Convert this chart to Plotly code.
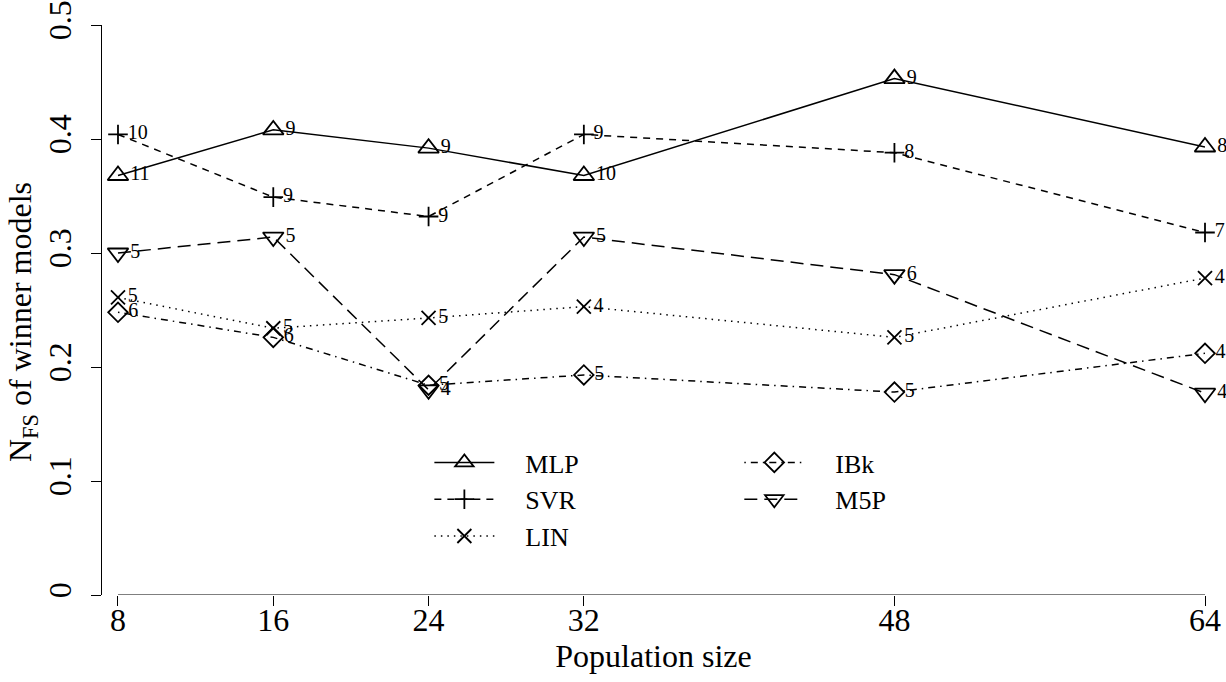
import plotly.graph_objects as go

pop_size = [8, 16, 24, 32, 48, 64]
x_tick_labels = ["8", "16", "24", "32", "48", "64"]
y_tick_vals = [0, 0.1, 0.2, 0.3, 0.4, 0.5]
y_tick_labels = ["0", "0.1", "0.2", "0.3", "0.4", "0.5"]

mlp = [0.368, 0.408, 0.392, 0.368, 0.453, 0.393]
svr = [0.404, 0.349, 0.332, 0.404, 0.388, 0.318]
lin = [0.261, 0.234, 0.243, 0.253, 0.226, 0.278]
ibk = [0.248, 0.226, 0.184, 0.193, 0.178, 0.212]
m5p = [0.300, 0.314, 0.180, 0.314, 0.281, 0.177]

mlp_n = ["11", "9", "9", "10", "9", "8"]
svr_n = ["10", "9", "9", "9", "8", "7"]
lin_n = ["5", "5", "5", "4", "5", "4"]
ibk_n = ["6", "6", "5", "5", "5", "4"]
m5p_n = ["5", "5", "4", "5", "6", "4"]

FONT = "Liberation Serif"
GAP = "\u00a0" * 4
series = [
    ("MLP", mlp, mlp_n, "solid", "triangle-up-open", 18, "legend"),
    ("SVR", svr, svr_n, "7px,6px", "cross-thin", 14, "legend"),
    ("LIN", lin, lin_n, "1.5px,5px", "x-thin", 14, "legend"),
    ("IBk", ibk, ibk_n, "1.5px,5px,7px,5px", "diamond-open", 15, "legend2"),
    ("M5P", m5p, m5p_n, "13px,7px", "triangle-down-open", 18, "legend2"),
]

fig = go.Figure()
for name, vals, labs, dash, sym, size, leg in series:
    fig.add_trace(go.Scatter(
        x=pop_size, y=vals, name=GAP + name, mode="lines+markers+text",
        text=labs, textposition="middle right",
        textfont=dict(family=FONT, size=20, color="black"),
        line=dict(color="black", width=1.5, dash=dash),
        marker=dict(symbol=sym, size=size, color="black",
                    line=dict(color="black", width=1.8)),
        cliponaxis=False, legend=leg,
    ))

# x axis line only between first and last category
fig.add_shape(type="line", xref="x", yref="y", x0=pop_size[0], x1=pop_size[-1],
              y0=0, y1=0, line=dict(color="black", width=1.2))

# y axis title
fig.add_annotation(text="N<sub>FS</sub> of winner models", xref="paper", yref="paper",
                   x=-0.0716, y=0.479, xanchor="center", yanchor="middle",
                   textangle=-90, showarrow=False,
                   font=dict(family=FONT, size=32, color="black"))

fig.update_layout(
    width=1226, height=682,
    margin=dict(l=102, r=21, t=25, b=87),
    plot_bgcolor="white", paper_bgcolor="white",
    font=dict(family=FONT, size=32, color="black"),
    showlegend=True,
    legend=dict(x=0.2968, y=0.2737, xanchor="left", yanchor="top",
                bgcolor="rgba(0,0,0,0)", font=dict(size=26), itemwidth=60,
                tracegroupgap=0),
    legend2=dict(x=0.5778, y=0.2737, xanchor="left", yanchor="top",
                 bgcolor="rgba(0,0,0,0)", font=dict(size=26), itemwidth=60,
                 tracegroupgap=0),
    xaxis=dict(range=[7.176, 64], tickvals=pop_size, ticktext=x_tick_labels,
               showline=False, zeroline=False, showgrid=False, automargin=False,
               ticks="outside", ticklen=10, tickcolor="black", tickwidth=1,
               ticklabelstandoff=-13, ticklabeloverflow="allow",
               tickfont=dict(size=32),
               title=dict(text="Population size", font=dict(size=32), standoff=2)),
    yaxis=dict(range=[0, 0.5], tickvals=y_tick_vals, ticktext=y_tick_labels,
               showline=True, linecolor="black", linewidth=1.2,
               zeroline=False, showgrid=False, automargin=False,
               ticks="outside", ticklen=10, tickcolor="black", tickwidth=1,
               ticklabelstandoff=7, ticklabeloverflow="allow",
               tickangle=-90, tickfont=dict(size=32)),
)

fig.write_html("out.html", config={"displayModeBar": False},
               post_script="document.body.style.margin='0';")
